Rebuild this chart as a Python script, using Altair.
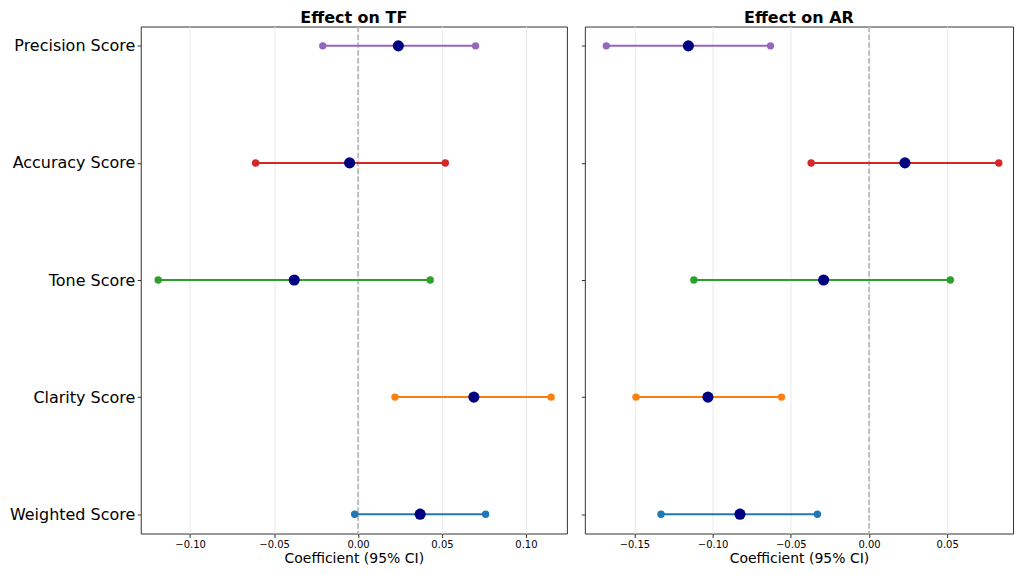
import altair as alt
import pandas as pd

# Categories (top to bottom) and their colours
categories = ["Precision Score", "Accuracy Score", "Tone Score", "Clarity Score", "Weighted Score"]
cat_colors = ["#9467bd", "#d62728", "#2ca02c", "#ff7f0e", "#1f77b4"]

# Effect on TF
tf_est = [0.024, -0.005, -0.038, 0.069, 0.037]
tf_low = [-0.021, -0.061, -0.119, 0.022, -0.002]
tf_high = [0.070, 0.052, 0.043, 0.115, 0.076]

# Effect on AR
ar_est = [-0.1155, 0.023, -0.029, -0.103, -0.0825]
ar_low = [-0.168, -0.037, -0.112, -0.149, -0.133]
ar_high = [-0.063, 0.083, 0.052, -0.056, -0.033]

# Axis settings
tf_domain = [-0.1294, 0.1244]
ar_domain = [-0.1817, 0.0921]
tf_ticks = [-0.10, -0.05, 0.00, 0.05, 0.10]
ar_ticks = [-0.15, -0.10, -0.05, 0.00, 0.05]

FONT = "DejaVu Sans"
XTITLE = "Coefficient (95% CI)"
PLOT_H = 508


def panel(est, low, high, title, domain, ticks, show_labels, width):
    df = pd.DataFrame({"cat": categories, "est": est, "low": low, "high": high})
    xscale = alt.Scale(domain=domain, nice=False, zero=False)
    xaxis = alt.Axis(
        title=XTITLE, values=ticks, grid=True, gridColor="#e8e8e8", gridWidth=1,
        labelExpr="replace(format(datum.value, '.2f'), '-', '\u2212')",
        labelFontSize=10, titleFontSize=14, titleFontWeight="normal",
        tickSize=4, labelPadding=2, titlePadding=2,
    )
    if show_labels:
        yaxis = alt.Axis(title=None, labelFontSize=16, tickSize=3.5, labelPadding=2.5,
                         grid=False, domain=False)
    else:
        yaxis = alt.Axis(title=None, labels=False, tickSize=3.5, grid=False, domain=False,
                         minExtent=0, maxExtent=4)
    y = alt.Y("cat:N", sort=categories, scale=alt.Scale(type="point", padding=0.165), axis=yaxis)
    color = alt.Color("cat:N", scale=alt.Scale(domain=categories, range=cat_colors), legend=None)

    base = alt.Chart(df)
    zero = alt.Chart(pd.DataFrame({"zero": [0.0]})).mark_rule(
        color="#b0b0b0", strokeWidth=1.5, strokeDash=[5.5, 2.4]
    ).encode(x=alt.X("zero:Q", scale=xscale, axis=xaxis, title=XTITLE))
    ci = base.mark_rule(strokeWidth=2).encode(
        x=alt.X("low:Q", scale=xscale, title=XTITLE), x2="high:Q", y=y, color=color
    )
    ends = base.transform_fold(["low", "high"], as_=["bound", "val"]).mark_circle(
        size=55, opacity=1
    ).encode(x=alt.X("val:Q", scale=xscale, title=XTITLE), y=y, color=color)
    point = base.mark_circle(size=125, opacity=1, color="#000080").encode(
        x=alt.X("est:Q", scale=xscale, title=XTITLE), y=y
    )
    return alt.layer(zero, ci, ends, point).properties(
        width=width,
        height=PLOT_H,
        title=alt.TitleParams(title, fontSize=16, fontWeight="bold", font=FONT,
                              anchor="middle", offset=0, color="black"),
    )


left = panel(tf_est, tf_low, tf_high, "Effect on TF", tf_domain, tf_ticks, True, 427)
right = panel(ar_est, ar_low, ar_high, "Effect on AR", ar_domain, ar_ticks, False, 429)

chart = alt.hconcat(left, right, spacing=12).properties(
    padding={"left": 0, "top": 0, "right": 2, "bottom": 0}
).configure_view(
    stroke="#333333", strokeWidth=1
).configure_axis(
    labelFont=FONT, titleFont=FONT, labelColor="black", titleColor="black",
    tickColor="#333333", domain=False
)

chart.save("out.html", embed_options={"renderer": "svg", "actions": False})
